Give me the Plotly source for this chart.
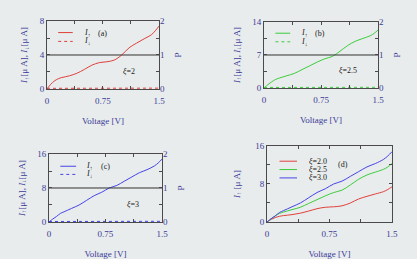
import plotly.graph_objects as go

# ---------------- data ----------------
voltage = [0, 0.05, 0.1, 0.15, 0.2, 0.3, 0.4, 0.5, 0.6, 0.7, 0.8, 0.9, 1.0, 1.1, 1.2, 1.3, 1.4, 1.45, 1.5]
i_up_xi20 = [0, 0.55, 0.95, 1.2, 1.35, 1.55, 1.85, 2.3, 2.8, 3.1, 3.2, 3.4, 4.0, 4.85, 5.4, 5.9, 6.4, 6.85, 7.4]
i_up_xi25 = [0, 0.7, 1.3, 1.8, 2.1, 2.6, 3.1, 3.9, 4.7, 5.5, 6.2, 6.7, 7.8, 9.0, 9.9, 10.5, 11.1, 11.6, 12.3]
i_up_xi30 = [0, 0.7, 1.3, 2.0, 2.4, 3.2, 4.0, 5.1, 6.2, 7.0, 8.0, 8.6, 9.6, 10.6, 11.6, 12.3, 13.2, 13.9, 14.8]

down_voltage = [0, 0.5, 1.0, 1.5]
i_down_xi20 = [0.08, 0.08, 0.09, 0.1]
i_down_xi25 = [0.12, 0.12, 0.14, 0.15]
i_down_xi30 = [0.12, 0.13, 0.15, 0.16]

p_voltage = [0, 1.5]
p_value = [1, 1]

xi_labels = ["2", "2.5", "3"]
panel_labels = ["(a)", "(b)", "(c)", "(d)"]
legend_labels = ["<i>I</i><sub>↑</sub>", "<i>I</i><sub>↓</sub>"]
legend_d_labels = ["<i>ξ</i>=2.0", "<i>ξ</i>=2.5", "<i>ξ</i>=3.0"]

x_tickvals = [0, 0.75, 1.5]
x_minorvals = [0.375, 1.125]
ya_tickvals = [0, 4, 8]
ya_minorvals = [2, 6]
yb_tickvals = [0, 7, 14]
yb_minorvals = [3.5, 10.5]
yc_tickvals = [0, 8, 16]
yc_minorvals = [4, 12]
p_tickvals = [0, 1, 2]
p_minorvals = [0.5, 1.5]

# ---------------- style ----------------
RED = "#e0403c"
GREEN = "#3ccc3c"
BLUE = "#4444e8"
TXT = "#3a3a98"
AX = "#4a4a4a"
BG = "#e8ecec"
FONT = "Liberation Serif, Times New Roman, serif"
DARK = "#222222"

fig = go.Figure()

panels = [
    ("x", "y", "y2", i_up_xi20, i_down_xi20, RED),
    ("x2", "y3", "y4", i_up_xi25, i_down_xi25, GREEN),
    ("x3", "y5", "y6", i_up_xi30, i_down_xi30, BLUE),
]
for xa, ya, yp, up, down, col in panels:
    fig.add_trace(go.Scatter(x=p_voltage, y=p_value, xaxis=xa, yaxis=yp, mode="lines",
                             line=dict(color="#333333", width=1), showlegend=False))
    fig.add_trace(go.Scatter(x=voltage, y=up, xaxis=xa, yaxis=ya, mode="lines",
                             line=dict(color=col, width=1, shape="spline"), showlegend=False))
    fig.add_trace(go.Scatter(x=down_voltage, y=down, xaxis=xa, yaxis=ya, mode="lines",
                             line=dict(color=col, width=1, dash="3px,3px"), showlegend=False))

for up, col in [(i_up_xi20, RED), (i_up_xi25, GREEN), (i_up_xi30, BLUE)]:
    fig.add_trace(go.Scatter(x=voltage, y=up, xaxis="x4", yaxis="y7", mode="lines",
                             line=dict(color=col, width=1, shape="spline"), showlegend=False))

tickfont = dict(family=FONT, size=9, color=TXT)
titlefont = dict(family=FONT, size=9, color=TXT)


def minor(vals):
    return dict(tickmode="array", tickvals=vals, ticks="inside", ticklen=3, tickcolor=AX, showgrid=False)


def xaxis(domain, anchor):
    return dict(domain=domain, anchor=anchor, range=[0, 1.5], tickmode="array", tickvals=x_tickvals,
                minor=minor(x_minorvals), ticklabelstandoff=3,
                ticks="inside", ticklen=3, tickcolor=AX, showline=True, linecolor=AX, linewidth=1,
                mirror="ticks", showgrid=False, zeroline=False, tickfont=tickfont,
                title=dict(text="Voltage [V]", font=titlefont, standoff=12), automargin=False)


def yaxis(domain, anchor, rng, tv, mv, title, standoff=10):
    return dict(domain=domain, anchor=anchor, range=rng, tickmode="array", tickvals=tv, minor=minor(mv),
                ticks="inside", ticklen=3, tickcolor=AX, showline=True, linecolor=AX, linewidth=1,
                mirror="ticks", showgrid=False, zeroline=False, tickfont=tickfont,
                title=dict(text=title, font=titlefont, standoff=standoff), automargin=False)


def paxis(overlay, anchor):
    return dict(overlaying=overlay, anchor=anchor, side="right", range=[0, 2], tickmode="array",
                tickvals=p_tickvals, ticks="", showline=False, showgrid=False, zeroline=False,
                tickfont=tickfont, title=dict(text="P", font=titlefont, standoff=10), automargin=False)


ytitle = "<i>I</i><sub>↑</sub>[μ A], <i>I</i><sub>↓</sub>[μ A]"
dom = {
    "a": ([0.1127, 0.3813], [0.6564, 0.9189]),
    "b": ([0.6331, 0.9065], [0.6602, 0.9151]),
    "c": ([0.1175, 0.3885], [0.1429, 0.4054]),
    "d": ([0.6403, 0.9400], [0.1429, 0.4363]),
}

fig.update_layout(
    width=417, height=259, margin=dict(l=0, r=0, t=0, b=0),
    paper_bgcolor=BG, plot_bgcolor=BG, showlegend=False,
    xaxis=xaxis(dom["a"][0], "y"),
    yaxis=yaxis(dom["a"][1], "x", [0, 8], ya_tickvals, ya_minorvals, ytitle),
    yaxis2=paxis("y", "x"),
    xaxis2=xaxis(dom["b"][0], "y3"),
    yaxis3=yaxis(dom["b"][1], "x2", [0, 14], yb_tickvals, yb_minorvals, ytitle),
    yaxis4=paxis("y3", "x2"),
    xaxis3=xaxis(dom["c"][0], "y5"),
    yaxis5=yaxis(dom["c"][1], "x3", [0, 16], yc_tickvals, yc_minorvals, ytitle),
    yaxis6=paxis("y5", "x3"),
    xaxis4=xaxis(dom["d"][0], "y7"),
    yaxis7=yaxis(dom["d"][1], "x4", [0, 16], yc_tickvals, yc_minorvals, "<i>I</i><sub>↑</sub> [μ A]", 13),
)

ann = []
shapes = []


def note(text, x, y, xr, yr, xanchor="center"):
    return dict(text=text, x=x, y=y, xref=xr, yref=yr, xanchor=xanchor, yanchor="middle",
                showarrow=False, font=dict(family=FONT, size=8, color=DARK))


panel_axes = [("x", "y"), ("x2", "y3"), ("x3", "y5")]
label_pos = [(0.50, 0.82), (0.49, 0.83), (0.50, 0.82)]
xi_pos = [(0.73, 0.25), (0.74, 0.26), (0.74, 0.25)]
legend_y = [(0.83, 0.70), (0.83, 0.70), (0.82, 0.70)]
legend_x = [(0.10, 0.23, 0.31), (0.10, 0.23, 0.31), (0.10, 0.24, 0.31)]
cols = [RED, GREEN, BLUE]
for k, (xa, ya) in enumerate(panel_axes):
    xr, yr = xa + " domain", ya + " domain"
    ann.append(note(panel_labels[k], label_pos[k][0], label_pos[k][1], xr, yr))
    ann.append(note("<i>ξ</i>=" + xi_labels[k], xi_pos[k][0], xi_pos[k][1], xr, yr))
    x0, x1, xt = legend_x[k]
    for j, (lab, dash) in enumerate(zip(legend_labels, ["solid", "3px,3px"])):
        yy = legend_y[k][j]
        shapes.append(dict(type="line", xref=xr, yref=yr, x0=x0, x1=x1, y0=yy, y1=yy,
                           line=dict(color=cols[k], width=1, dash=dash)))
        ann.append(note(lab, xt, yy, xr, yr, "left"))

ann.append(note(panel_labels[3], 0.61, 0.75, "x4 domain", "y7 domain"))
for j, lab in enumerate(legend_d_labels):
    yy = [0.80, 0.69, 0.58][j]
    shapes.append(dict(type="line", xref="x4 domain", yref="y7 domain", x0=0.10, x1=0.24, y0=yy, y1=yy,
                       line=dict(color=cols[j], width=1)))
    ann.append(note(lab, 0.32, yy, "x4 domain", "y7 domain", "left"))

fig.update_layout(annotations=ann, shapes=shapes)
fig.write_html("out.html", config={"displayModeBar": False},
               post_script="document.body.style.margin='0';document.body.style.overflow='hidden';")
